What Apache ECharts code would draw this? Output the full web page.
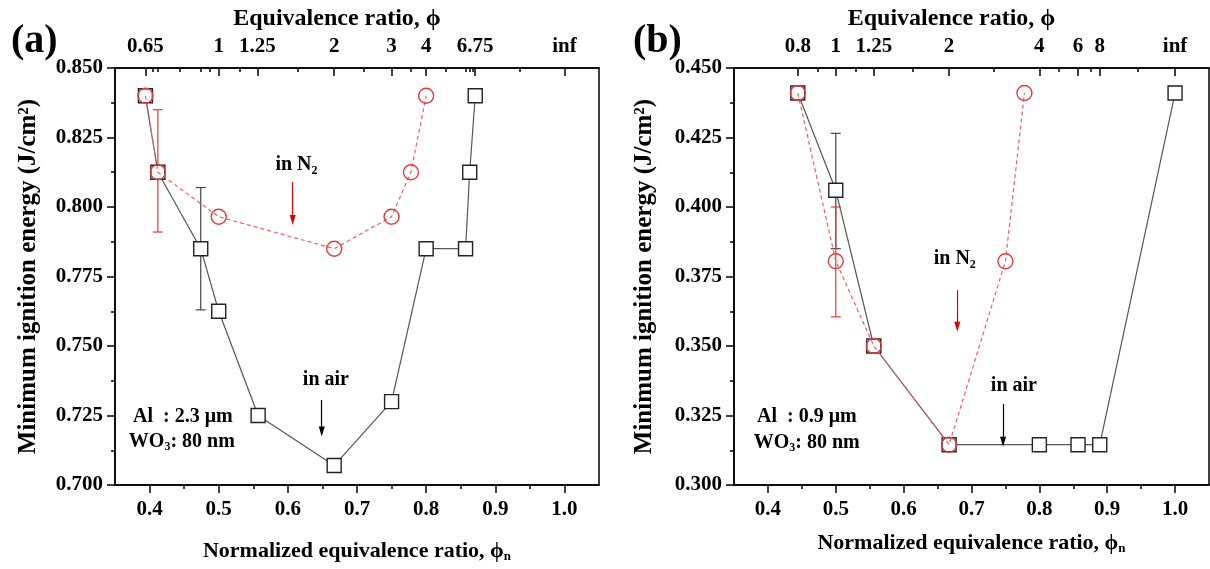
<!DOCTYPE html>
<html>
<head>
<meta charset="utf-8">
<script src="https://cdn.jsdelivr.net/npm/echarts@6/dist/echarts.min.js"></script>
<style>
html, body { margin: 0; padding: 0; background: #fff; }
#main { width: 1210px; height: 569px; }
</style>
</head>
<body>
<div id="main"></div>
<script>
// ---- panel (a): Al 2.3 um / WO3 80 nm ----
var airA = [[0.394, 0.840], [0.412, 0.8125], [0.474, 0.785], [0.500, 0.7625], [0.557, 0.725], [0.667, 0.707],
  [0.750, 0.730], [0.800, 0.785], [0.857, 0.785], [0.863, 0.8125], [0.871, 0.840]]
var n2A = [[0.394, 0.840], [0.412, 0.8125], [0.500, 0.7965], [0.667, 0.785], [0.750, 0.7965], [0.778, 0.8125], [0.800, 0.840]]
// x, low, high
var errAirA = [[0.474, 0.763, 0.807]]
var errN2A = [[0.412, 0.791, 0.835]]

// ---- panel (b): Al 0.9 um / WO3 80 nm ----
var airB = [[0.444, 0.441], [0.500, 0.406], [0.556, 0.350], [0.667, 0.3145], [0.800, 0.3145], [0.857, 0.3145],
  [0.889, 0.3145], [1.000, 0.441]]
var n2B = [[0.444, 0.441], [0.500, 0.3805], [0.556, 0.350], [0.667, 0.3145], [0.750, 0.3805], [0.778, 0.441]]
var errAirB = [[0.500, 0.385, 0.4265]]
var errN2B = [[0.500, 0.3605, 0.400]]

// bottom axis ticks (normalized ratio)
var bottomMajor = [0.4, 0.5, 0.6, 0.7, 0.8, 0.9, 1.0]
var bottomMinor = [0.45, 0.55, 0.65, 0.75, 0.85, 0.95]

// top axis: equivalence ratio phi placed at phi/(1+phi)
var topPosA = [0.394, 0.5, 0.556, 0.667, 0.75, 0.8, 0.871, 1.0]
var topLabA = ['0.65', '1', '1.25', '2', '3', '4', '6.75', 'inf']
var topMinorA = [0.404, 0.412, 0.444, 0.474, 0.487, 0.530, 0.614, 0.710, 0.778, 0.829, 0.857, 0.863, 0.867, 0.936]
var topPosB = [0.444, 0.5, 0.556, 0.667, 0.8, 0.857, 0.889, 1.0]
var topLabB = ['0.8', '1', '1.25', '2', '4', '6', '8', 'inf']
var topMinorB = [0.474, 0.530, 0.614, 0.733, 0.829, 0.875, 0.945]

// annotations [x, y, text]
var notesA = [[0.6125, 0.8151, 'in N{s|2}'], [0.655, 0.7378, 'in air']]
var sideA = [[0.376, 0.7246, 'Al  : 2.3 μm'], [0.370, 0.7156, 'WO{s|3}: 80 nm']]
var notesB = [[0.6754, 0.3812, 'in N{s|2}'], [0.7625, 0.3356, 'in air']]
var sideB = [[0.384, 0.3246, 'Al  : 0.9 μm'], [0.379, 0.3152, 'WO{s|3}: 80 nm']]
// arrows [x, yFrom, yTo]
var arrowN2A = [0.607, 0.809, 0.7953]
var arrowAirA = [0.649, 0.7306, 0.7192]
var arrowN2B = [0.679, 0.3701, 0.3569]
var arrowAirB = [0.7465, 0.3291, 0.3156]

var FONT = 'Liberation Serif'
var BLACK = '#000'
var RED = '#e23b3b'

var chart = echarts.init(document.getElementById('main'))

function richSub(size) {
  return { s: { fontFamily: FONT, fontWeight: 'bold', fontSize: size, color: BLACK, padding: [11, 0, 0, 0] } }
}

function xAxes(g, topPos, topLab, topMinor, nameGapBottom, nameGapTop) {
  var labelStyle = { color: BLACK, fontFamily: FONT, fontWeight: 'bold', fontSize: 21 }
  return [
    {
      gridIndex: g, type: 'value', position: 'bottom', min: 0.35, max: 1.05,
      axisLine: { lineStyle: { color: BLACK, width: 1.5 } },
      axisTick: { customValues: bottomMajor, length: 8, lineStyle: { color: BLACK, width: 1.5 } },
      axisLabel: Object.assign({ customValues: bottomMajor, margin: 14, formatter: function (v) { return v.toFixed(1) } }, labelStyle),
      splitLine: { show: false },
      name: 'Normalized equivalence ratio, ϕ{s|n}',
      nameLocation: 'middle', nameGap: nameGapBottom,
      nameTextStyle: { color: BLACK, fontFamily: FONT, fontWeight: 'bold', fontSize: 22, rich: richSub(13) },
    },
    {
      gridIndex: g, type: 'value', position: 'bottom', min: 0.35, max: 1.05,
      axisLine: { show: false },
      axisTick: { customValues: bottomMinor, length: 4, lineStyle: { color: BLACK, width: 1.5 } },
      axisLabel: { show: false },
      splitLine: { show: false },
    },
    {
      gridIndex: g, type: 'value', position: 'top', min: 0.35, max: 1.05,
      axisLine: { lineStyle: { color: BLACK, width: 1.5 } },
      axisTick: { customValues: topPos, inside: true, length: 8, lineStyle: { color: BLACK, width: 1.5 } },
      axisLabel: Object.assign({
        customValues: topPos, margin: 11,
        formatter: function (v) {
          for (var i = 0; i < topPos.length; i++) {
            if (Math.abs(topPos[i] - v) < 1e-6) return topLab[i]
          }
          return ''
        },
      }, labelStyle),
      splitLine: { show: false },
      name: 'Equivalence ratio, ϕ',
      nameLocation: 'middle', nameGap: nameGapTop,
      nameTextStyle: { color: BLACK, fontFamily: FONT, fontWeight: 'bold', fontSize: 24, padding: [0, 40, 0, 0] },
    },
    {
      gridIndex: g, type: 'value', position: 'top', min: 0.35, max: 1.05,
      axisLine: { show: false },
      axisTick: { customValues: topMinor, inside: true, length: 4, lineStyle: { color: BLACK, width: 1.5 } },
      axisLabel: { show: false },
      splitLine: { show: false },
    },
  ]
}

function yAxis(g, min, max, nameGap) {
  return {
    gridIndex: g, type: 'value', min: min, max: max, interval: 0.025,
    axisLine: { show: true, lineStyle: { color: BLACK, width: 1.5 } },
    axisTick: { show: true, length: 8, lineStyle: { color: BLACK, width: 1.5 } },
    minorTick: { show: true, splitNumber: 2, length: 4, lineStyle: { color: BLACK, width: 1.5 } },
    axisLabel: { color: BLACK, fontFamily: FONT, fontWeight: 'bold', fontSize: 21, margin: 12,
      formatter: function (v) { return v.toFixed(3) } },
    splitLine: { show: false },
    name: 'Minimum ignition energy (J/cm²)',
    nameLocation: 'middle', nameGap: nameGap, nameRotate: 90,
    nameTextStyle: { color: BLACK, fontFamily: FONT, fontWeight: 'bold', fontSize: 25 },
  }
}

function errorSeries(data, color, xi, yi) {
  return {
    type: 'custom', xAxisIndex: xi, yAxisIndex: yi, z: 1,
    data: data,
    renderItem: function (params, api) {
      var x = api.value(0)
      var lo = api.coord([x, api.value(1)])
      var hi = api.coord([x, api.value(2)])
      var w = 5
      var st = { stroke: color, lineWidth: 1.2 }
      return {
        type: 'group',
        children: [
          { type: 'line', shape: { x1: lo[0], y1: lo[1], x2: hi[0], y2: hi[1] }, style: st },
          { type: 'line', shape: { x1: lo[0] - w, y1: lo[1], x2: lo[0] + w, y2: lo[1] }, style: st },
          { type: 'line', shape: { x1: hi[0] - w, y1: hi[1], x2: hi[0] + w, y2: hi[1] }, style: st },
        ],
      }
    },
  }
}

function airSeries(data, xi, yi) {
  return {
    type: 'line', xAxisIndex: xi, yAxisIndex: yi, data: data, z: 3,
    symbol: 'rect', symbolSize: 14, showAllSymbol: true,
    itemStyle: { color: '#fff', borderColor: '#222', borderWidth: 1.4 },
    lineStyle: { color: '#555', width: 1.2 },
  }
}

function n2Series(data, xi, yi) {
  return {
    type: 'line', xAxisIndex: xi, yAxisIndex: yi, data: data, z: 4,
    symbol: 'circle', symbolSize: 15, showAllSymbol: true,
    itemStyle: { color: 'rgba(255,255,255,0)', borderColor: RED, borderWidth: 1.4 },
    lineStyle: { color: '#e86060', width: 1.2, type: [4, 3] },
  }
}

function arrowLine(a, color) {
  var ls = { color: color, width: 1.2, type: 'solid', opacity: 1 }
  return [
    { coord: [a[0], a[1]], symbol: 'none', lineStyle: ls },
    { coord: [a[0], a[2]], symbol: 'triangle', symbolSize: [6, 10], symbolRotate: 180, lineStyle: ls, itemStyle: { color: color } },
  ]
}

function noteSeries(notes, side, arrows, xi, yi) {
  var d = []
  notes.forEach(function (n) { d.push({ value: [n[0], n[1]], label: { position: 'inside', formatter: n[2] } }) })
  side.forEach(function (n) { d.push({ value: [n[0], n[1]], label: { position: 'right', distance: 0, formatter: n[2] } }) })
  return {
    type: 'scatter', xAxisIndex: xi, yAxisIndex: yi, z: 6, silent: true,
    symbolSize: 0, data: d,
    itemStyle: { opacity: 1 },
    label: { show: true, color: BLACK, opacity: 1, textBorderWidth: 0, fontFamily: FONT, fontWeight: 'bold', fontSize: 20, rich: richSub(12) },
    markLine: {
      silent: true, animation: false,
      label: { show: false },
      data: arrows,
    },
  }
}

chart.setOption({
  animation: false,
  backgroundColor: '#fff',
  title: [
    { text: '(a)', left: 6, top: 17, textStyle: { fontFamily: FONT, fontWeight: 'bold', fontSize: 40, color: BLACK } },
    { text: '(b)', left: 628, top: 17, textStyle: { fontFamily: FONT, fontWeight: 'bold', fontSize: 40, color: BLACK } },
  ],
  grid: [
    { left: 115, top: 68, width: 484, height: 417, show: true, borderColor: BLACK, borderWidth: 1.5, backgroundColor: 'transparent' },
    { left: 734, top: 68, width: 475, height: 417, show: true, borderColor: BLACK, borderWidth: 1.5, backgroundColor: 'transparent' },
  ],
  xAxis: xAxes(0, topPosA, topLabA, topMinorA, 54, 36).concat(xAxes(1, topPosB, topLabB, topMinorB, 46, 33)),
  yAxis: [yAxis(0, 0.7, 0.85, 74), yAxis(1, 0.3, 0.45, 77)],
  series: [
    errorSeries(errAirA, '#444', 0, 0),
    errorSeries(errN2A, RED, 0, 0),
    airSeries(airA, 0, 0),
    n2Series(n2A, 0, 0),
    noteSeries(notesA, sideA, [arrowLine(arrowN2A, '#e00000'), arrowLine(arrowAirA, BLACK)], 0, 0),
    errorSeries(errAirB, '#444', 4, 1),
    errorSeries(errN2B, RED, 4, 1),
    airSeries(airB, 4, 1),
    n2Series(n2B, 4, 1),
    noteSeries(notesB, sideB, [arrowLine(arrowN2B, '#e00000'), arrowLine(arrowAirB, BLACK)], 4, 1),
  ],
})
</script>
</body>
</html>
